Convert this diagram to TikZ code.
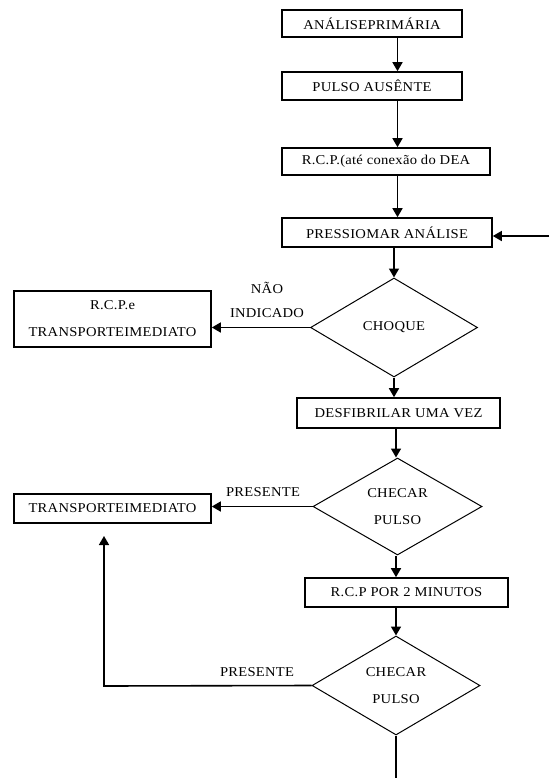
\documentclass[tikz,border=0pt]{standalone}
\usepackage{fontspec}
\setmainfont{Liberation Serif}[LetterSpace=2, FakeStretch=1.08]
\usetikzlibrary{shapes.geometric,arrows.meta}
\begin{document}
\begin{tikzpicture}[x=1pt,y=-1pt, font=\fontsize{13.5}{27}\selectfont,
  box/.style={draw, rectangle, inner sep=0pt, line width=1.6pt, align=center},
  dec/.style={draw, diamond, inner sep=0pt, line width=1pt, align=center},
  arr/.style={-{Triangle[length=9pt,width=10pt]}, line width=1.6pt},
  ln/.style={line width=1.6pt},
  lbl/.style={inner sep=0pt, align=center}]
\useasboundingbox[fill=white] (0,0) rectangle (550,778);
% spine coordinates
\coordinate (sp) at (397.5,0);
\coordinate (spb) at (396,0);
\coordinate (entry) at (549,236);
\coordinate (bottom) at (396,778);
\coordinate (corner) at (104,686);
\coordinate (uptip) at (104,536);
% boxes
\node[box, minimum width=180pt, minimum height=27pt] (b1) at (372,23.5) {ANÁLISEPRIMÁRIA};
\node[box, minimum width=180pt, minimum height=28pt] (b2) at (372,86) {PULSO AUSÊNTE};
\node[box, minimum width=208pt, minimum height=27pt] (b3) at (386,161.5) {R.C.P.(até conexão do DEA};
\node[box, minimum width=210pt, minimum height=29pt] (b4) at (387,232.5) {PRESSIOMAR ANÁLISE};
\node[dec, minimum width=167pt, minimum height=99pt] (d1) at (394,327.5) {CHOQUE};
\node[box, minimum width=197pt, minimum height=56pt] (rcp) at (112.5,319) {R.C.P.e\\TRANSPORTEIMEDIATO};
\node[box, minimum width=203pt, minimum height=30pt] (b5) at (398.5,413) {DESFIBRILAR UMA VEZ};
\node[dec, minimum width=169pt, minimum height=97pt] (d2) at (397.5,506.5) {CHECAR\\PULSO};
\node[box, minimum width=197pt, minimum height=29pt] (tr) at (112.5,508.5) {TRANSPORTEIMEDIATO};
\node[box, minimum width=203pt, minimum height=29pt] (b6) at (406.5,592.5) {R.C.P POR 2 MINUTOS};
\node[dec, minimum width=168pt, minimum height=99pt] (d3) at (396,685.5) {CHECAR\\PULSO};
% labels
\node[lbl, font=\fontsize{13.5}{24}\selectfont] (l1) at (267,300) {NÃO\\INDICADO};
\node[lbl] (l2) at (263,492) {PRESENTE};
\node[lbl] (l3) at (257,672) {PRESENTE};
% connectors
\draw[arr] (b1.south -| sp) -- (b2.north -| sp);
\draw[arr] (b2.south -| sp) -- (b3.north -| sp);
\draw[arr] (b3.south -| sp) -- (b4.north -| sp);
\draw[arr] (b4.south -| d1) -- (d1.north);
\draw[arr] (entry) -- (entry -| b4.east);
\draw[arr] (d1.west) -- (d1.west -| rcp.east);
\draw[arr] (d1.south) -- (d1.south |- b5.north);
\draw[arr] (b5.south -| spb) -- (d2.north -| spb);
\draw[arr] (d2.west) -- (d2.west -| tr.east);
\draw[arr] (d2.south -| spb) -- (b6.north -| spb);
\draw[arr] (b6.south -| spb) -- (d3.north -| spb);
\draw[ln] (d3.south) -- (bottom);
\draw[arr] (d3.west) -- (corner) -- (uptip);
\end{tikzpicture}
\end{document}
